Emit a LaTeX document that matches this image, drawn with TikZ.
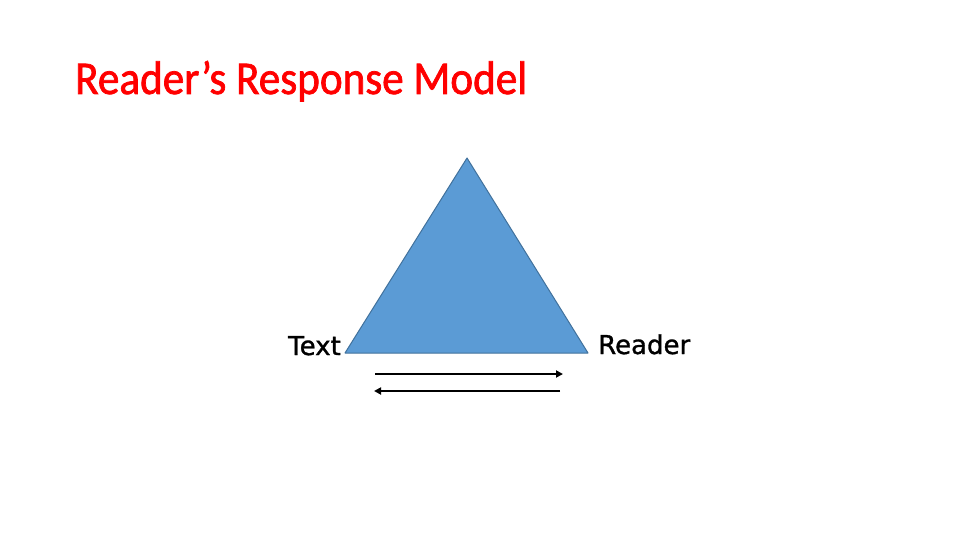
\documentclass[tikz,border=0pt]{standalone}
\usepackage{fontspec}
\setmainfont{DejaVu Sans}
\newfontfamily\labelfont[FakeBold=1.2]{DejaVu Sans}
\newfontfamily\titlefont[FakeBold=1.6]{Carlito}
\usetikzlibrary{arrows.meta}
\definecolor{trifill}{HTML}{5B9BD5}
\definecolor{triline}{HTML}{41719C}
\definecolor{titlered}{HTML}{FF0000}
\begin{document}
\begin{tikzpicture}[x=1pt,y=-1pt,
  labeltext/.style={font=\labelfont\fontsize{26}{31}\selectfont, inner sep=0pt},
  conn/.style={line width=2.2pt, -{Triangle[length=7pt,width=7pt]}}]
\useasboundingbox (0,0) rectangle (960,540);
\node[anchor=base west, inner sep=0pt, text=titlered] (title) at (75,94)
  {\titlefont\fontsize{47}{56}\selectfont\resizebox{452pt}{\height}{Reader’s Response Model}};
\coordinate (apex) at (467,158);
\coordinate (bl) at (345,353);
\coordinate (br) at (588,353);
\filldraw[fill=trifill, draw=triline, line width=1pt, line join=round] (apex) -- (bl) -- (br) -- cycle;
\node[labeltext, anchor=base east] (text) at (341,355) {Text};
\node[labeltext, anchor=base west] (reader) at (598,354) {Reader};
\coordinate (a1s) at (375,374);
\coordinate (a1e) at (563,374);
\coordinate (a2s) at (560,391);
\coordinate (a2e) at (374,391);
\draw[conn] (a1s) -- (a1e);
\draw[conn] (a2s) -- (a2e);
\end{tikzpicture}
\end{document}
